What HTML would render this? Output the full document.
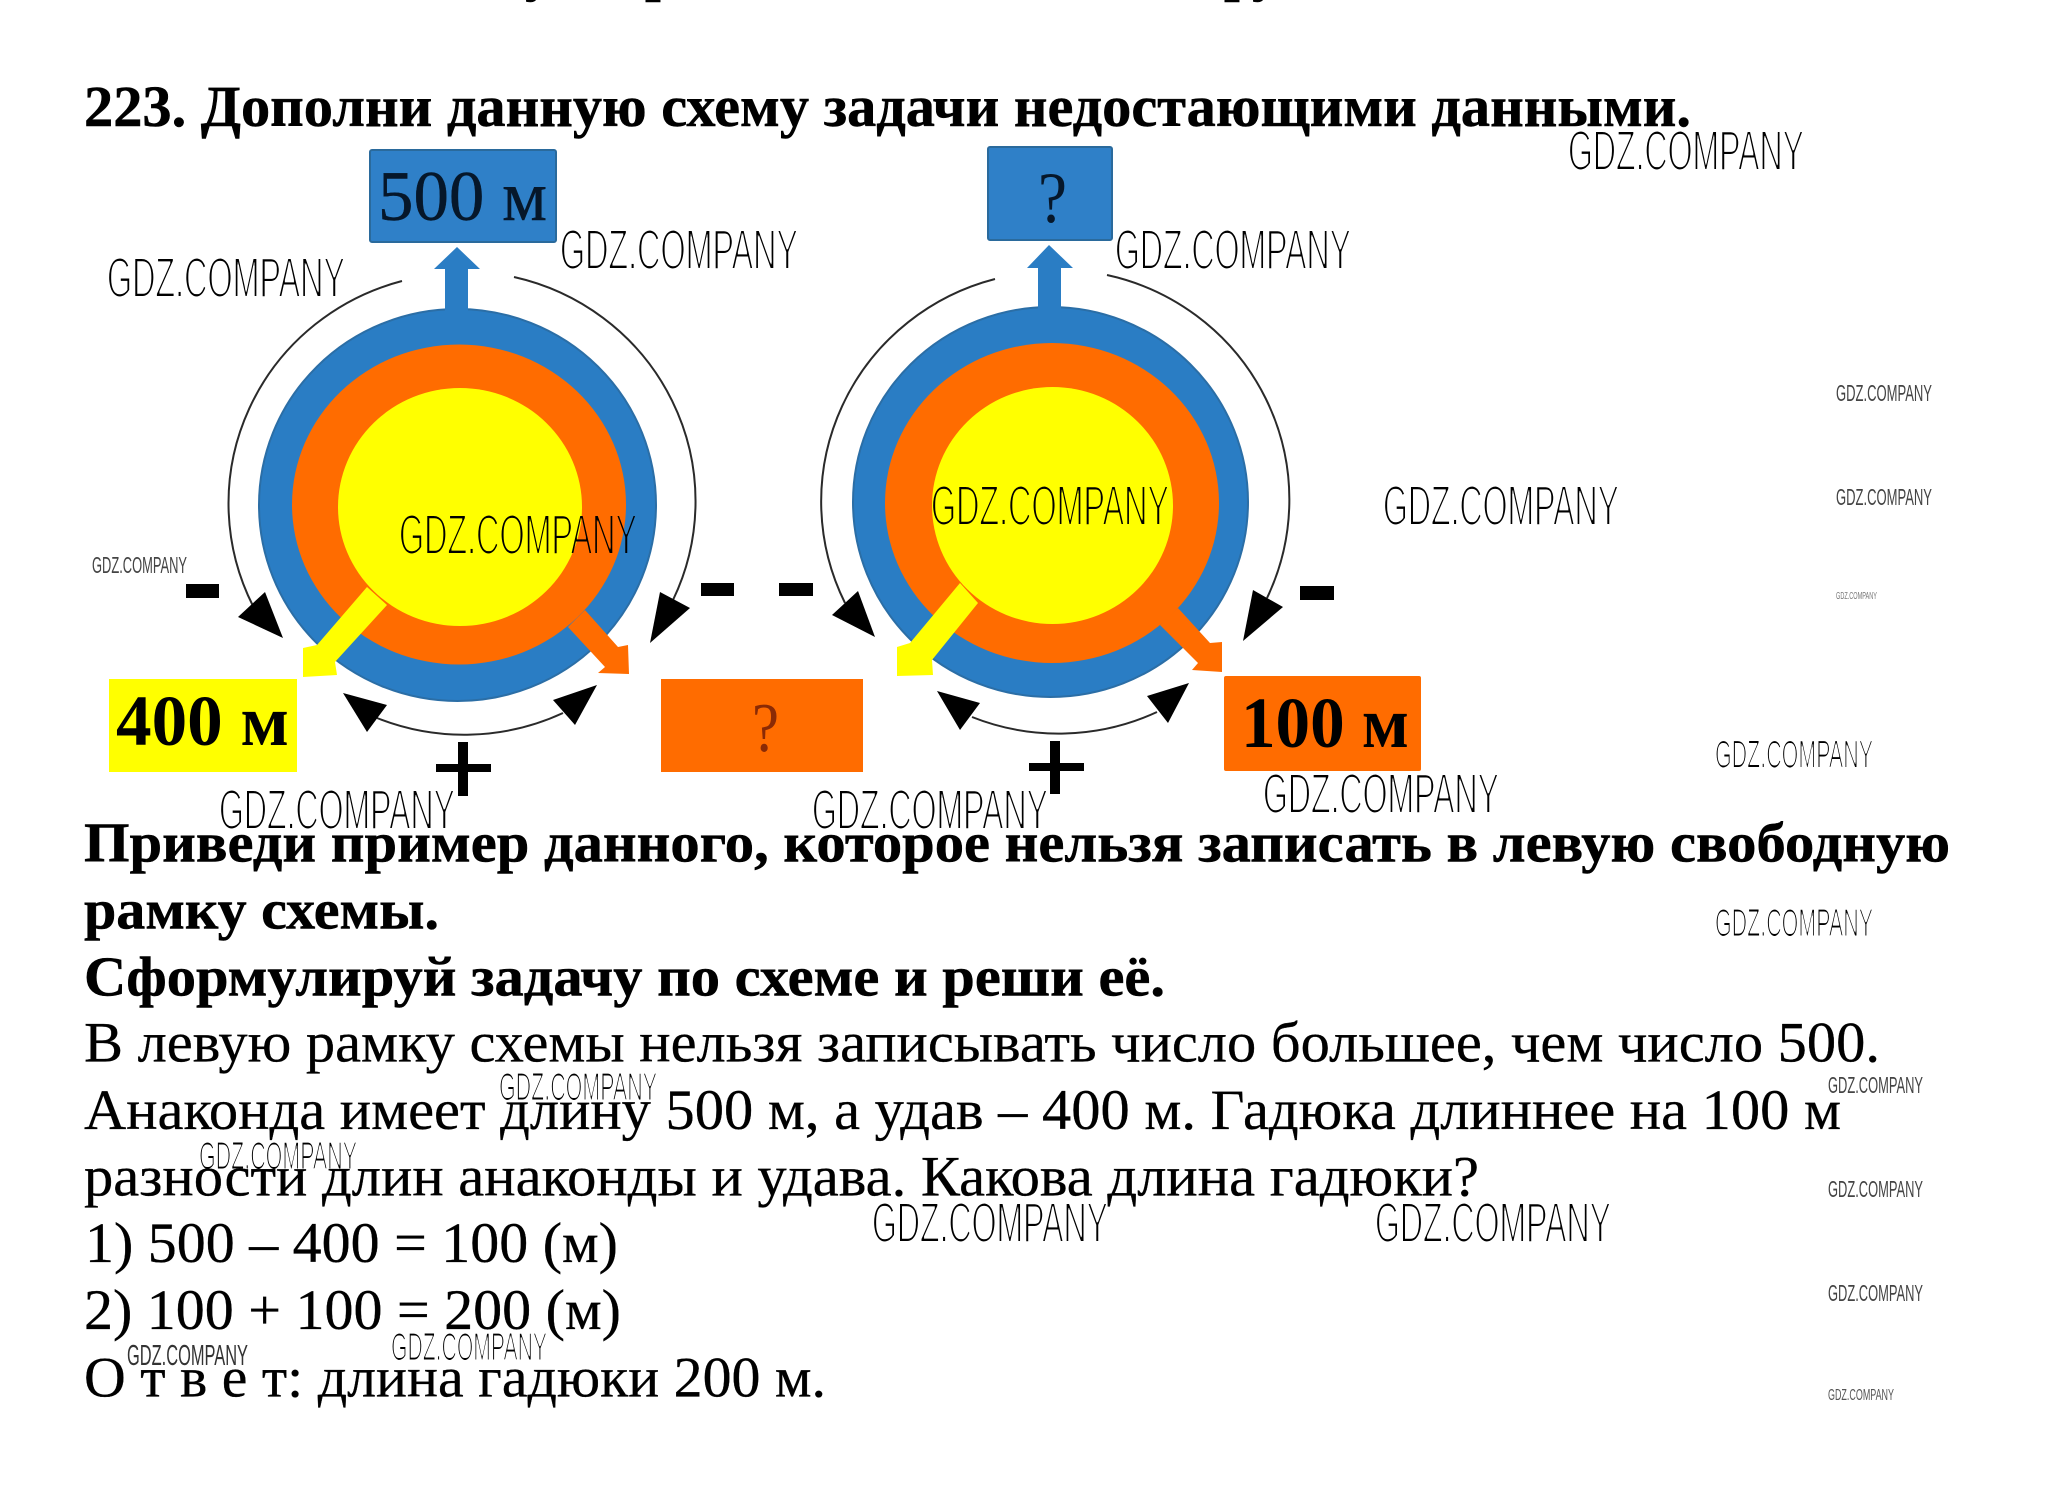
<!DOCTYPE html>
<html><head><meta charset="utf-8"><style>
html,body{margin:0;padding:0;background:#fff;width:2055px;height:1503px;overflow:hidden}
svg{display:block}
.b{font-family:"Liberation Serif",serif;font-size:57px;fill:#000;stroke:#000;stroke-width:.3}
.bb{font-family:"Liberation Serif",serif;font-size:56px;font-weight:bold;fill:#000;stroke:#000;stroke-width:.5}
.t{font-size:58px}
.w{font-family:"Liberation Sans",sans-serif;fill:#000}
.big{font-size:57px;filter:url(#eb)}.med{font-size:39px;filter:url(#em)}.sm{font-size:29px;fill:#333}.ti{font-size:23px;fill:#444}.xs{font-size:16px;fill:#555}.xx{font-size:10px;fill:#777}
.arc{fill:none;stroke:#2a2a2a;stroke-width:2}
</style></head><body>
<svg width="2055" height="1503" viewBox="0 0 2055 1503" xmlns="http://www.w3.org/2000/svg">
<defs>
<filter id="eb" x="-2%" y="-10%" width="104%" height="120%"><feMorphology operator="erode" radius="0.6 1"/></filter>
<filter id="em" x="-2%" y="-10%" width="104%" height="120%"><feMorphology operator="erode" radius="0.4 0.7"/></filter>
</defs>
<rect width="2055" height="1503" fill="#fff"/>
<text class="bb" x="525" y="-10">у</text><text class="bb" x="645" y="-10">р</text><text class="bb" x="1224" y="-10">р</text><text class="bb" x="1252" y="-10">у</text>

<text class="bb t" x="84" y="126" textLength="1607" lengthAdjust="spacingAndGlyphs">223. Дополни данную схему задачи недостающими данными.</text>

<!-- left diagram -->
<ellipse cx="457.5" cy="505" rx="198.5" ry="196" fill="#2a7dc4" stroke="#2b6ea6" stroke-width="2"/>
<ellipse cx="459" cy="504.5" rx="167" ry="160" fill="#ff6c00"/>
<ellipse cx="460" cy="507" rx="122" ry="119" fill="#ffff00"/>
<polygon points="445,312 445,269 434,269 457,247 480,269 468,269 468,312" fill="#2a7dc4"/>
<rect x="370" y="150" width="186" height="92" rx="2" fill="#2f80c8" stroke="#2a6a9c" stroke-width="2"/>
<text x="378" y="220" font-family="Liberation Serif,serif" font-size="71" fill="#06172a" stroke="#06172a" stroke-width=".4" textLength="169" lengthAdjust="spacingAndGlyphs">500 м</text>
<polygon points="367,587 387,605 335,662 337,675 303,677 303,648 317,645" fill="#ffff00"/>
<polygon points="585,610 618,647 628,645 629,674 598,673 605,667 568,627" fill="#ff6c00"/>
<path class="arc" d="M402 281 A233 230 0 0 0 253 606"/>
<path class="arc" d="M514 277 A233 230 0 0 1 673 600"/>
<path class="arc" d="M377 718 A233 230 0 0 0 563 713"/>
<polygon points="283,638 238,617 265,592" fill="#000"/>
<polygon points="650,643 690,608 660,592" fill="#000"/>
<polygon points="343,693 387,705 367,732" fill="#000"/>
<polygon points="597,685 575,725 553,700" fill="#000"/>
<rect x="109" y="679" width="188" height="93" fill="#ffff00"/>
<text x="116" y="745" font-family="Liberation Serif,serif" font-weight="bold" font-size="72" fill="#000" textLength="173" lengthAdjust="spacingAndGlyphs">400 м</text>
<rect x="661" y="679" width="202" height="93" fill="#ff6c00"/>
<text x="752" y="751" font-family="Liberation Serif,serif" font-size="70" fill="#8a2a05" textLength="27" lengthAdjust="spacingAndGlyphs">?</text>
<rect x="186" y="584" width="33" height="14"/>
<rect x="701" y="583" width="33" height="13"/>
<rect x="779" y="583" width="34" height="13"/>
<rect x="436" y="764" width="55" height="8"/><rect x="458" y="742" width="10" height="54"/>

<!-- right diagram -->
<ellipse cx="1050.5" cy="502" rx="197.5" ry="195" fill="#2a7dc4" stroke="#2b6ea6" stroke-width="2"/>
<ellipse cx="1052" cy="503" rx="167" ry="160" fill="#ff6c00"/>
<ellipse cx="1052.5" cy="505.5" rx="120.5" ry="118.5" fill="#ffff00"/>
<polygon points="1038,310 1038,268 1027,268 1049,245 1073,268 1061,268 1061,310" fill="#2a7dc4"/>
<rect x="988" y="147" width="124" height="93" rx="2" fill="#2f80c8" stroke="#2a6a9c" stroke-width="2"/>
<text x="1038" y="222" font-family="Liberation Serif,serif" font-size="72" fill="#06172a" textLength="29" lengthAdjust="spacingAndGlyphs">?</text>
<polygon points="960,583 978,603 932,660 933,675 897,676 897,647 910,643" fill="#ffff00"/>
<polygon points="1178,608 1210,643 1222,642 1222,672 1192,670 1198,663 1160,625" fill="#ff6c00"/>
<path class="arc" d="M995 279 A232.5 230 0 0 0 845 603"/>
<path class="arc" d="M1107 275 A232.5 230 0 0 1 1267 598"/>
<path class="arc" d="M972 717 A232.5 230 0 0 0 1157 712"/>
<polygon points="875,637 832,615 858,591" fill="#000"/>
<polygon points="1243,641 1283,607 1253,590" fill="#000"/>
<polygon points="937,691 980,703 960,730" fill="#000"/>
<polygon points="1189,683 1168,723 1147,696" fill="#000"/>
<rect x="1224" y="676" width="197" height="95" rx="2" fill="#ff6c00"/>
<text x="1241" y="747" font-family="Liberation Serif,serif" font-weight="bold" font-size="72" fill="#000" textLength="168" lengthAdjust="spacingAndGlyphs">100 м</text>
<rect x="1300" y="586" width="34" height="14"/>
<rect x="1029" y="763" width="55" height="8"/><rect x="1050" y="741" width="10" height="53"/>

<!-- body text -->
<text class="bb" x="84" y="861.5" textLength="1866" lengthAdjust="spacingAndGlyphs">Приведи пример данного, которое нельзя записать в левую свободную</text>
<text class="bb" x="84" y="928.5" textLength="355" lengthAdjust="spacingAndGlyphs">рамку схемы.</text>
<text class="bb" x="84" y="995.5" textLength="1081" lengthAdjust="spacingAndGlyphs">Сформулируй задачу по схеме и реши её.</text>
<text class="b" x="84" y="1061.5" textLength="1796" lengthAdjust="spacingAndGlyphs">В левую рамку схемы нельзя записывать число большее, чем число 500.</text>
<text class="b" x="84" y="1129" textLength="1757" lengthAdjust="spacingAndGlyphs">Анаконда имеет длину 500 м, а удав – 400 м. Гадюка длиннее на 100 м</text>
<text class="b" x="84" y="1195.5" textLength="1395" lengthAdjust="spacingAndGlyphs">разности длин анаконды и удава. Какова длина гадюки?</text>
<text class="b" x="85" y="1262" textLength="533" lengthAdjust="spacingAndGlyphs">1) 500 – 400 = 100 (м)</text>
<text class="b" x="84" y="1329" textLength="537" lengthAdjust="spacingAndGlyphs">2) 100 + 100 = 200 (м)</text>
<text class="b" x="84" y="1396.5" textLength="742" lengthAdjust="spacingAndGlyphs">О т в е т: длина гадюки 200 м.</text>

<!-- watermarks -->
<g>
<text class="w big" x="107" y="297" textLength="238" lengthAdjust="spacingAndGlyphs">GDZ.COMPANY</text>
<text class="w big" x="560" y="269" textLength="238" lengthAdjust="spacingAndGlyphs">GDZ.COMPANY</text>
<text class="w big" x="399" y="554" textLength="238" lengthAdjust="spacingAndGlyphs">GDZ.COMPANY</text>
<text class="w big" x="931" y="525" textLength="238" lengthAdjust="spacingAndGlyphs">GDZ.COMPANY</text>
<text class="w big" x="1568" y="170" textLength="236" lengthAdjust="spacingAndGlyphs">GDZ.COMPANY</text>
<text class="w big" x="1115" y="269" textLength="236" lengthAdjust="spacingAndGlyphs">GDZ.COMPANY</text>
<text class="w big" x="1383" y="525" textLength="236" lengthAdjust="spacingAndGlyphs">GDZ.COMPANY</text>
<text class="w big" x="1263" y="813" textLength="236" lengthAdjust="spacingAndGlyphs">GDZ.COMPANY</text>
<text class="w big" x="219" y="829" textLength="236" lengthAdjust="spacingAndGlyphs">GDZ.COMPANY</text>
<text class="w big" x="812" y="829" textLength="236" lengthAdjust="spacingAndGlyphs">GDZ.COMPANY</text>
<text class="w big" x="872" y="1242" textLength="236" lengthAdjust="spacingAndGlyphs">GDZ.COMPANY</text>
<text class="w big" x="1375" y="1242" textLength="236" lengthAdjust="spacingAndGlyphs">GDZ.COMPANY</text>
<text class="w med" x="1715" y="767.5" textLength="158" lengthAdjust="spacingAndGlyphs">GDZ.COMPANY</text>
<text class="w med" x="1715" y="936" textLength="158" lengthAdjust="spacingAndGlyphs">GDZ.COMPANY</text>
<text class="w med" x="499" y="1100" textLength="158" lengthAdjust="spacingAndGlyphs">GDZ.COMPANY</text>
<text class="w med" x="199" y="1169" textLength="158" lengthAdjust="spacingAndGlyphs">GDZ.COMPANY</text>
<text class="w med" x="391" y="1360" textLength="156" lengthAdjust="spacingAndGlyphs">GDZ.COMPANY</text>
<text class="w sm" x="127" y="1365" textLength="121" lengthAdjust="spacingAndGlyphs">GDZ.COMPANY</text>
<text class="w ti" x="92" y="573" textLength="95" lengthAdjust="spacingAndGlyphs">GDZ.COMPANY</text>
<text class="w ti" x="1836" y="401" textLength="96" lengthAdjust="spacingAndGlyphs">GDZ.COMPANY</text>
<text class="w ti" x="1836" y="505" textLength="96" lengthAdjust="spacingAndGlyphs">GDZ.COMPANY</text>
<text class="w xx" x="1836" y="599" textLength="41" lengthAdjust="spacingAndGlyphs">GDZ.COMPANY</text>
<text class="w ti" x="1828" y="1093" textLength="95" lengthAdjust="spacingAndGlyphs">GDZ.COMPANY</text>
<text class="w ti" x="1828" y="1197" textLength="95" lengthAdjust="spacingAndGlyphs">GDZ.COMPANY</text>
<text class="w ti" x="1828" y="1301" textLength="95" lengthAdjust="spacingAndGlyphs">GDZ.COMPANY</text>
<text class="w xs" x="1828" y="1400" textLength="66" lengthAdjust="spacingAndGlyphs">GDZ.COMPANY</text>
</g>
</svg>
</body></html>
